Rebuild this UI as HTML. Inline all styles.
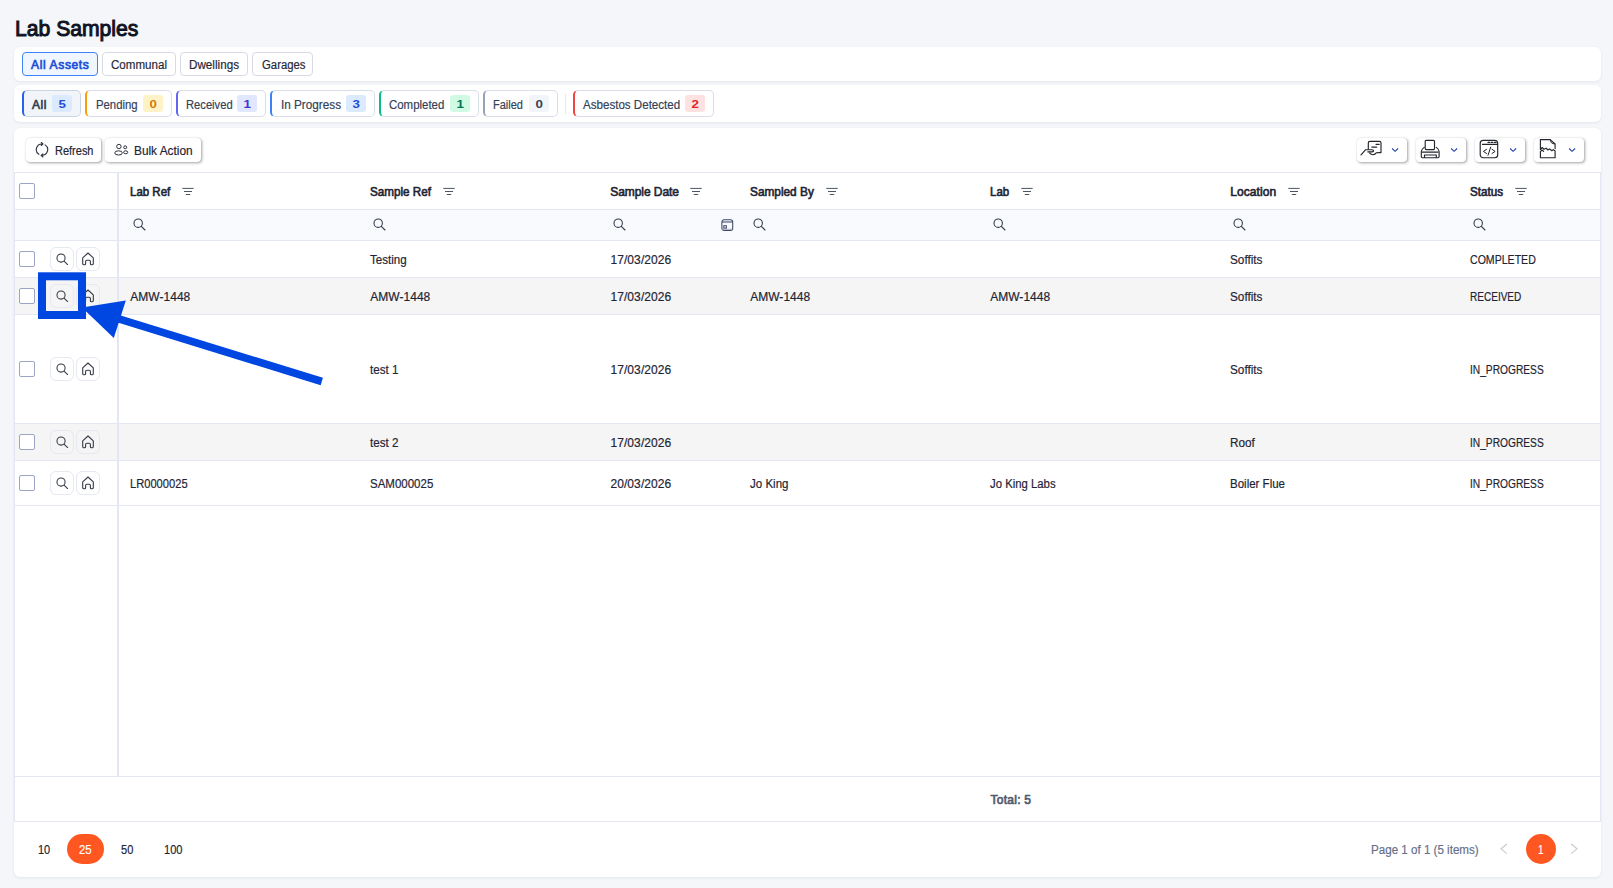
<!DOCTYPE html>
<html lang="en"><head><meta charset="utf-8"><title>Lab Samples</title>
<style>
html,body{margin:0;padding:0}
body{width:1613px;height:888px;overflow:hidden;position:relative;background:#f4f6fa;font-family:'Liberation Sans', sans-serif}
span{position:absolute;white-space:pre;}
</style></head><body>
<div style="position:absolute;left:14px;top:47px;width:1587px;height:34px;background:#fff;border-radius:6px;box-shadow:0 1px 3px rgba(30,41,80,.08);"></div>
<div style="position:absolute;left:22px;top:52px;width:76px;height:24px;box-sizing:border-box;background:#eff6ff;border:1px solid #3b82f6;border-radius:4px;"></div>
<div style="position:absolute;left:102px;top:52px;width:74px;height:24px;box-sizing:border-box;background:#fff;border:1px solid #d5dae6;border-radius:4px;"></div>
<div style="position:absolute;left:180px;top:52px;width:68px;height:24px;box-sizing:border-box;background:#fff;border:1px solid #d5dae6;border-radius:4px;"></div>
<div style="position:absolute;left:252px;top:52px;width:61px;height:24px;box-sizing:border-box;background:#fff;border:1px solid #d5dae6;border-radius:4px;"></div>
<div style="position:absolute;left:14px;top:85px;width:1587px;height:37px;background:#fff;border-radius:6px;box-shadow:0 1px 3px rgba(30,41,80,.08);"></div>
<div style="position:absolute;left:22px;top:90px;width:59px;height:27px;box-sizing:border-box;background:#f1f5f9;border:1px solid #cbd5e1;border-left:2px solid #2563eb;border-radius:5px;"></div>
<div style="position:absolute;left:52px;top:95px;width:20px;height:17px;background:#dbeafe;border-radius:3px;"></div>
<div style="position:absolute;left:85px;top:90px;width:87px;height:27px;box-sizing:border-box;background:#fff;border:1px solid #d9dde8;border-left:2px solid #f59e0b;border-radius:5px;"></div>
<div style="position:absolute;left:143px;top:95px;width:20px;height:17px;background:#fef3c7;border-radius:3px;"></div>
<div style="position:absolute;left:176px;top:90px;width:90px;height:27px;box-sizing:border-box;background:#fff;border:1px solid #d9dde8;border-left:2px solid #6366f1;border-radius:5px;"></div>
<div style="position:absolute;left:237px;top:95px;width:20px;height:17px;background:#e0e7ff;border-radius:3px;"></div>
<div style="position:absolute;left:270px;top:90px;width:105px;height:27px;box-sizing:border-box;background:#fff;border:1px solid #d9dde8;border-left:2px solid #3b82f6;border-radius:5px;"></div>
<div style="position:absolute;left:346.2px;top:95px;width:20px;height:17px;background:#dbeafe;border-radius:3px;"></div>
<div style="position:absolute;left:379px;top:90px;width:99.5px;height:27px;box-sizing:border-box;background:#fff;border:1px solid #d9dde8;border-left:2px solid #10b981;border-radius:5px;"></div>
<div style="position:absolute;left:450.2px;top:95px;width:20px;height:17px;background:#d1fae5;border-radius:3px;"></div>
<div style="position:absolute;left:483px;top:90px;width:75px;height:27px;box-sizing:border-box;background:#fff;border:1px solid #d9dde8;border-left:2px solid #94a3b8;border-radius:5px;"></div>
<div style="position:absolute;left:529.2px;top:95px;width:20px;height:17px;background:#f1f5f9;border-radius:3px;"></div>
<div style="position:absolute;left:565px;top:94px;width:1px;height:20px;background:#e2e8f0;"></div>
<div style="position:absolute;left:573px;top:90px;width:140.5px;height:27px;box-sizing:border-box;background:#fff;border:1px solid #d9dde8;border-left:2px solid #ef4444;border-radius:5px;"></div>
<div style="position:absolute;left:685.2px;top:95px;width:20px;height:17px;background:#fee2e2;border-radius:3px;"></div>
<div style="position:absolute;left:14px;top:128px;width:1587px;height:749px;background:#fff;border-radius:6px;box-shadow:0 1px 3px rgba(30,41,80,.08);"></div>
<div style="position:absolute;left:26px;top:138px;width:75px;height:24px;background:#fff;border-radius:4px;box-shadow:1px 1px 3px rgba(0,0,0,.36),0 0 1px rgba(0,0,0,.14);"></div>
<div style="position:absolute;left:105px;top:138px;width:96px;height:24px;background:#fff;border-radius:4px;box-shadow:1px 1px 3px rgba(0,0,0,.36),0 0 1px rgba(0,0,0,.14);"></div>
<svg style="position:absolute;left:34px;top:142px" width="16" height="16" viewBox="0 0 16 16" fill="none" stroke="#2b3040" stroke-width="1.1" stroke-linecap="round" stroke-linejoin="round">
<path d="M4.9 12.3 A5.6 5.6 0 0 1 8.6 2.03 M7.3 0.4 L9 1.9 L7.3 3.5 M11.1 2.9 A5.6 5.6 0 0 1 7.4 13.17 M8.9 11.8 L7.1 13.4 L8.9 15"/></svg>
<svg style="position:absolute;left:114px;top:143px" width="15" height="14" viewBox="0 0 15 14" fill="none" stroke="#2b3040" stroke-width="1">
<circle cx="4.9" cy="3.5" r="2.2"/><ellipse cx="4.55" cy="9.9" rx="3.8" ry="2.1"/>
<circle cx="11.2" cy="4.3" r="1.5"/><ellipse cx="11.7" cy="9.3" rx="2.05" ry="1.5"/></svg>
<div style="position:absolute;left:1357px;top:138px;width:50px;height:24px;background:#fff;border-radius:4px;box-shadow:1px 1px 3px rgba(0,0,0,.36),0 0 1px rgba(0,0,0,.14);"></div>
<svg style="position:absolute;left:1391px;top:147.4px" width="9" height="6" viewBox="0 0 9 6" fill="none" stroke="#1e3fae" stroke-width="1.05"><path d="M1.1 1.5 L4.1 4.3 L7.1 1.5"/></svg>
<div style="position:absolute;left:1416px;top:138px;width:50px;height:24px;background:#fff;border-radius:4px;box-shadow:1px 1px 3px rgba(0,0,0,.36),0 0 1px rgba(0,0,0,.14);"></div>
<svg style="position:absolute;left:1450px;top:147.4px" width="9" height="6" viewBox="0 0 9 6" fill="none" stroke="#1e3fae" stroke-width="1.05"><path d="M1.1 1.5 L4.1 4.3 L7.1 1.5"/></svg>
<div style="position:absolute;left:1475px;top:138px;width:50px;height:24px;background:#fff;border-radius:4px;box-shadow:1px 1px 3px rgba(0,0,0,.36),0 0 1px rgba(0,0,0,.14);"></div>
<svg style="position:absolute;left:1509px;top:147.4px" width="9" height="6" viewBox="0 0 9 6" fill="none" stroke="#1e3fae" stroke-width="1.05"><path d="M1.1 1.5 L4.1 4.3 L7.1 1.5"/></svg>
<div style="position:absolute;left:1534px;top:138px;width:50px;height:24px;background:#fff;border-radius:4px;box-shadow:1px 1px 3px rgba(0,0,0,.36),0 0 1px rgba(0,0,0,.14);"></div>
<svg style="position:absolute;left:1568px;top:147.4px" width="9" height="6" viewBox="0 0 9 6" fill="none" stroke="#1e3fae" stroke-width="1.05"><path d="M1.1 1.5 L4.1 4.3 L7.1 1.5"/></svg>
<svg style="position:absolute;left:1360px;top:140px" width="23" height="17" viewBox="0 0 23 17" fill="none" stroke="#22252b" stroke-width="1.15" stroke-linejoin="round" stroke-linecap="round">
<path d="M8.3 9 V3 Q8.3 1.4 10 1.4 H19.4 Q21 1.4 21 3 V12.6 H19 L16.6 12.7 Q15 14.7 13 14.7 Q11 14.7 9.6 12.9"/>
<path d="M16 4.3 H19.2 M11.8 7.1 H16.7"/>
<path d="M1 14.8 L5.7 9.7 H12 Q13.6 9.7 13.6 10.75 Q13.6 11.8 12 11.8 H7.8"/></svg>
<svg style="position:absolute;left:1420px;top:139px" width="21" height="20" viewBox="0 0 21 20" fill="none" stroke="#22252b" stroke-width="1.15" stroke-linejoin="round" stroke-linecap="round">
<rect x="5.2" y="1.3" width="9.3" height="9.3" rx="1"/>
<path d="M4.2 8.4 Q1.3 10.4 1.3 12.6 V17.6 Q1.3 18.7 2.4 18.7 H18 Q19.1 18.7 19.1 17.6 V12.6 Q19.1 10.4 16.3 8.4"/>
<path d="M2.4 13.1 H18"/><path d="M4.5 18.5 V16 H16.3 V18.5"/></svg>
<svg style="position:absolute;left:1479px;top:139px" width="20" height="20" viewBox="0 0 20 20" fill="none" stroke="#22252b" stroke-width="1.15" stroke-linejoin="round" stroke-linecap="round">
<rect x="1.2" y="1.4" width="17.5" height="17.3" rx="3"/><path d="M3.4 5.3 H18.6"/>
<path d="M9 3.3 H17.2" stroke-width="1.3" stroke-dasharray="1.7 1.5"/>
<path d="M7.6 10.3 L4.4 12.4 L7.6 14.5 M13 10.3 L16.1 12.4 L13 14.5 M11.7 8.1 L9 16.3" stroke-width="1"/></svg>
<svg style="position:absolute;left:1539px;top:138px" width="18" height="21" viewBox="0 0 18 21" fill="none" stroke="#22252b" stroke-width="1.15" stroke-linejoin="round" stroke-linecap="round">
<path d="M1.4 11.2 V1.6 H11.2 L16.1 6 V10.6"/><path d="M11.4 2.2 Q11.4 5.8 15.6 5.9" stroke-width="1"/>
<path d="M1.4 11.3 L3.2 9.5 L5 11.3 L7.2 10.2 L8.9 12 L10.7 10.9 L12.8 12.7 L14.3 11.6 L16.1 13 V19.7 H1.4 V13.6 L3 12 L4.6 13.4" /></svg>
<div style="position:absolute;left:15px;top:210px;width:1585px;height:30px;background:#f9fafd;"></div>
<div style="position:absolute;left:15px;top:278px;width:1585px;height:36px;background:#f5f5f5;"></div>
<div style="position:absolute;left:15px;top:424px;width:1585px;height:36px;background:#f5f5f5;"></div>
<div style="position:absolute;left:14px;top:172px;width:1587px;height:1px;background:#e3e7f1;"></div>
<div style="position:absolute;left:14px;top:209px;width:1587px;height:1px;background:#e3e7f1;"></div>
<div style="position:absolute;left:14px;top:240px;width:1587px;height:1px;background:#e3e7f1;"></div>
<div style="position:absolute;left:14px;top:277px;width:1587px;height:1px;background:#e3e7f1;"></div>
<div style="position:absolute;left:14px;top:314px;width:1587px;height:1px;background:#e3e7f1;"></div>
<div style="position:absolute;left:14px;top:423px;width:1587px;height:1px;background:#e3e7f1;"></div>
<div style="position:absolute;left:14px;top:460px;width:1587px;height:1px;background:#e3e7f1;"></div>
<div style="position:absolute;left:14px;top:505px;width:1587px;height:1px;background:#e3e7f1;"></div>
<div style="position:absolute;left:118px;top:776px;width:1483px;height:1px;background:#e3e7f1;"></div>
<div style="position:absolute;left:14px;top:776px;width:104px;height:1px;background:#e3e7f1;"></div>
<div style="position:absolute;left:14px;top:821px;width:1587px;height:1px;background:#e3e7f1;"></div>
<div style="position:absolute;left:14px;top:172px;width:1px;height:650px;background:#e3e7f1;"></div>
<div style="position:absolute;left:1600px;top:172px;width:1px;height:650px;background:#e3e7f1;"></div>
<div style="position:absolute;left:117px;top:172px;width:2px;height:605px;background:#e4e7f2;"></div>
<svg style="position:absolute;left:181.6px;top:187px" width="12" height="9" viewBox="0 0 12 9" fill="none" stroke="#4b5563" stroke-width="1"><path d="M0.3 1.4 H11.7 M2 4.5 H10 M3.8 7.5 H8.2"/></svg>
<svg style="position:absolute;left:442.6px;top:187px" width="12" height="9" viewBox="0 0 12 9" fill="none" stroke="#4b5563" stroke-width="1"><path d="M0.3 1.4 H11.7 M2 4.5 H10 M3.8 7.5 H8.2"/></svg>
<svg style="position:absolute;left:690.3px;top:187px" width="12" height="9" viewBox="0 0 12 9" fill="none" stroke="#4b5563" stroke-width="1"><path d="M0.3 1.4 H11.7 M2 4.5 H10 M3.8 7.5 H8.2"/></svg>
<svg style="position:absolute;left:825.6px;top:187px" width="12" height="9" viewBox="0 0 12 9" fill="none" stroke="#4b5563" stroke-width="1"><path d="M0.3 1.4 H11.7 M2 4.5 H10 M3.8 7.5 H8.2"/></svg>
<svg style="position:absolute;left:1020.9px;top:187px" width="12" height="9" viewBox="0 0 12 9" fill="none" stroke="#4b5563" stroke-width="1"><path d="M0.3 1.4 H11.7 M2 4.5 H10 M3.8 7.5 H8.2"/></svg>
<svg style="position:absolute;left:1288px;top:187px" width="12" height="9" viewBox="0 0 12 9" fill="none" stroke="#4b5563" stroke-width="1"><path d="M0.3 1.4 H11.7 M2 4.5 H10 M3.8 7.5 H8.2"/></svg>
<svg style="position:absolute;left:1514.6px;top:187px" width="12" height="9" viewBox="0 0 12 9" fill="none" stroke="#4b5563" stroke-width="1"><path d="M0.3 1.4 H11.7 M2 4.5 H10 M3.8 7.5 H8.2"/></svg>
<svg style="position:absolute;left:133px;top:218.3px" width="13" height="13" viewBox="0 0 13 13" fill="none" stroke="#333a48" stroke-width="1.08" stroke-linecap="round"><circle cx="5.2" cy="5.2" r="4.2"/><path d="M8.3 8.3 L12 12"/></svg>
<svg style="position:absolute;left:373px;top:218.3px" width="13" height="13" viewBox="0 0 13 13" fill="none" stroke="#333a48" stroke-width="1.08" stroke-linecap="round"><circle cx="5.2" cy="5.2" r="4.2"/><path d="M8.3 8.3 L12 12"/></svg>
<svg style="position:absolute;left:613px;top:218.3px" width="13" height="13" viewBox="0 0 13 13" fill="none" stroke="#333a48" stroke-width="1.08" stroke-linecap="round"><circle cx="5.2" cy="5.2" r="4.2"/><path d="M8.3 8.3 L12 12"/></svg>
<svg style="position:absolute;left:753px;top:218.3px" width="13" height="13" viewBox="0 0 13 13" fill="none" stroke="#333a48" stroke-width="1.08" stroke-linecap="round"><circle cx="5.2" cy="5.2" r="4.2"/><path d="M8.3 8.3 L12 12"/></svg>
<svg style="position:absolute;left:993px;top:218.3px" width="13" height="13" viewBox="0 0 13 13" fill="none" stroke="#333a48" stroke-width="1.08" stroke-linecap="round"><circle cx="5.2" cy="5.2" r="4.2"/><path d="M8.3 8.3 L12 12"/></svg>
<svg style="position:absolute;left:1233px;top:218.3px" width="13" height="13" viewBox="0 0 13 13" fill="none" stroke="#333a48" stroke-width="1.08" stroke-linecap="round"><circle cx="5.2" cy="5.2" r="4.2"/><path d="M8.3 8.3 L12 12"/></svg>
<svg style="position:absolute;left:1473px;top:218.3px" width="13" height="13" viewBox="0 0 13 13" fill="none" stroke="#333a48" stroke-width="1.08" stroke-linecap="round"><circle cx="5.2" cy="5.2" r="4.2"/><path d="M8.3 8.3 L12 12"/></svg>
<svg style="position:absolute;left:721px;top:219px" width="13" height="13" viewBox="0 0 13 13" fill="none" stroke="#3b4668" stroke-width="1.05"><rect x="0.9" y="0.7" width="10.8" height="10.7" rx="2.2"/><path d="M1 3 H11.6"/><path d="M1.4 10.3 H11.3" stroke="#9aa3b8" stroke-width=".9"/><rect x="2.8" y="6.7" width="2.6" height="2.4" stroke-width="1"/></svg>
<div style="position:absolute;left:19px;top:183px;width:16px;height:16px;box-sizing:border-box;background:#fff;border:1px solid #9ca6c4;border-radius:2px;"></div>
<div style="position:absolute;left:19px;top:251px;width:16px;height:16px;box-sizing:border-box;background:#fff;border:1px solid #9ca6c4;border-radius:2px;"></div>
<div style="position:absolute;left:50px;top:247px;width:24px;height:24px;box-sizing:border-box;border:1px solid #e6e8f2;border-radius:6px;"></div>
<div style="position:absolute;left:76px;top:247px;width:24px;height:24px;box-sizing:border-box;border:1px solid #e6e8f2;border-radius:6px;"></div>
<svg style="position:absolute;left:56.1px;top:252.9px" width="12.6" height="12.6" viewBox="0 0 13 13" fill="none" stroke="#333843" stroke-width="1.08" stroke-linecap="round"><circle cx="5.2" cy="5.2" r="4.2"/><path d="M8.3 8.3 L12 12"/></svg>
<svg style="position:absolute;left:81px;top:251.5px" width="14" height="14" viewBox="0 0 14 14" fill="none" stroke="#333843" stroke-width="1.1" stroke-linejoin="round" stroke-linecap="round"><path d="M7 1.0 L1.7 5.9 V11.4 Q1.7 12.8 3 12.8 H3.6 Q4.6 12.8 4.6 11.8 V9.6 Q4.6 8.3 5.9 8.3 H8.1 Q9.4 8.3 9.4 9.6 V11.8 Q9.4 12.8 10.4 12.8 H11 Q12.3 12.8 12.3 11.4 V5.9 Z"/></svg>
<div style="position:absolute;left:19px;top:288px;width:16px;height:16px;box-sizing:border-box;background:#fff;border:1px solid #9ca6c4;border-radius:2px;"></div>
<div style="position:absolute;left:50px;top:284px;width:24px;height:24px;box-sizing:border-box;border:1px solid #e6e8f2;border-radius:6px;"></div>
<div style="position:absolute;left:76px;top:284px;width:24px;height:24px;box-sizing:border-box;border:1px solid #e6e8f2;border-radius:6px;"></div>
<svg style="position:absolute;left:56.1px;top:289.9px" width="12.6" height="12.6" viewBox="0 0 13 13" fill="none" stroke="#333843" stroke-width="1.08" stroke-linecap="round"><circle cx="5.2" cy="5.2" r="4.2"/><path d="M8.3 8.3 L12 12"/></svg>
<svg style="position:absolute;left:81px;top:288.5px" width="14" height="14" viewBox="0 0 14 14" fill="none" stroke="#333843" stroke-width="1.1" stroke-linejoin="round" stroke-linecap="round"><path d="M7 1.0 L1.7 5.9 V11.4 Q1.7 12.8 3 12.8 H3.6 Q4.6 12.8 4.6 11.8 V9.6 Q4.6 8.3 5.9 8.3 H8.1 Q9.4 8.3 9.4 9.6 V11.8 Q9.4 12.8 10.4 12.8 H11 Q12.3 12.8 12.3 11.4 V5.9 Z"/></svg>
<div style="position:absolute;left:19px;top:361px;width:16px;height:16px;box-sizing:border-box;background:#fff;border:1px solid #9ca6c4;border-radius:2px;"></div>
<div style="position:absolute;left:50px;top:357px;width:24px;height:24px;box-sizing:border-box;border:1px solid #e6e8f2;border-radius:6px;"></div>
<div style="position:absolute;left:76px;top:357px;width:24px;height:24px;box-sizing:border-box;border:1px solid #e6e8f2;border-radius:6px;"></div>
<svg style="position:absolute;left:56.1px;top:362.9px" width="12.6" height="12.6" viewBox="0 0 13 13" fill="none" stroke="#333843" stroke-width="1.08" stroke-linecap="round"><circle cx="5.2" cy="5.2" r="4.2"/><path d="M8.3 8.3 L12 12"/></svg>
<svg style="position:absolute;left:81px;top:361.5px" width="14" height="14" viewBox="0 0 14 14" fill="none" stroke="#333843" stroke-width="1.1" stroke-linejoin="round" stroke-linecap="round"><path d="M7 1.0 L1.7 5.9 V11.4 Q1.7 12.8 3 12.8 H3.6 Q4.6 12.8 4.6 11.8 V9.6 Q4.6 8.3 5.9 8.3 H8.1 Q9.4 8.3 9.4 9.6 V11.8 Q9.4 12.8 10.4 12.8 H11 Q12.3 12.8 12.3 11.4 V5.9 Z"/></svg>
<div style="position:absolute;left:19px;top:434px;width:16px;height:16px;box-sizing:border-box;background:#fff;border:1px solid #9ca6c4;border-radius:2px;"></div>
<div style="position:absolute;left:50px;top:430px;width:24px;height:24px;box-sizing:border-box;border:1px solid #e6e8f2;border-radius:6px;"></div>
<div style="position:absolute;left:76px;top:430px;width:24px;height:24px;box-sizing:border-box;border:1px solid #e6e8f2;border-radius:6px;"></div>
<svg style="position:absolute;left:56.1px;top:435.9px" width="12.6" height="12.6" viewBox="0 0 13 13" fill="none" stroke="#333843" stroke-width="1.08" stroke-linecap="round"><circle cx="5.2" cy="5.2" r="4.2"/><path d="M8.3 8.3 L12 12"/></svg>
<svg style="position:absolute;left:81px;top:434.5px" width="14" height="14" viewBox="0 0 14 14" fill="none" stroke="#333843" stroke-width="1.1" stroke-linejoin="round" stroke-linecap="round"><path d="M7 1.0 L1.7 5.9 V11.4 Q1.7 12.8 3 12.8 H3.6 Q4.6 12.8 4.6 11.8 V9.6 Q4.6 8.3 5.9 8.3 H8.1 Q9.4 8.3 9.4 9.6 V11.8 Q9.4 12.8 10.4 12.8 H11 Q12.3 12.8 12.3 11.4 V5.9 Z"/></svg>
<div style="position:absolute;left:19px;top:475px;width:16px;height:16px;box-sizing:border-box;background:#fff;border:1px solid #9ca6c4;border-radius:2px;"></div>
<div style="position:absolute;left:50px;top:471px;width:24px;height:24px;box-sizing:border-box;border:1px solid #e6e8f2;border-radius:6px;"></div>
<div style="position:absolute;left:76px;top:471px;width:24px;height:24px;box-sizing:border-box;border:1px solid #e6e8f2;border-radius:6px;"></div>
<svg style="position:absolute;left:56.1px;top:476.9px" width="12.6" height="12.6" viewBox="0 0 13 13" fill="none" stroke="#333843" stroke-width="1.08" stroke-linecap="round"><circle cx="5.2" cy="5.2" r="4.2"/><path d="M8.3 8.3 L12 12"/></svg>
<svg style="position:absolute;left:81px;top:475.5px" width="14" height="14" viewBox="0 0 14 14" fill="none" stroke="#333843" stroke-width="1.1" stroke-linejoin="round" stroke-linecap="round"><path d="M7 1.0 L1.7 5.9 V11.4 Q1.7 12.8 3 12.8 H3.6 Q4.6 12.8 4.6 11.8 V9.6 Q4.6 8.3 5.9 8.3 H8.1 Q9.4 8.3 9.4 9.6 V11.8 Q9.4 12.8 10.4 12.8 H11 Q12.3 12.8 12.3 11.4 V5.9 Z"/></svg>
<div style="position:absolute;left:67px;top:834px;width:37px;height:30px;background:#ff5722;border-radius:15px;"></div>
<div style="position:absolute;left:1526px;top:834px;width:30px;height:30px;background:#ff5722;border-radius:15px;"></div>
<svg style="position:absolute;left:1500px;top:843px" width="8" height="12" viewBox="0 0 8 12" fill="none" stroke="#c3c8d2" stroke-width="1.1"><path d="M6.8 1 L1 5.8 L6.8 10.6"/></svg>
<svg style="position:absolute;left:1569.9px;top:843px" width="8" height="12" viewBox="0 0 8 12" fill="none" stroke="#c3c8d2" stroke-width="1.1"><path d="M1.2 1 L7 5.8 L1.2 10.6"/></svg>
<span style="left:15.1px;top:15.5px;font-size:22px;line-height:25px;font-weight:400;-webkit-text-stroke:1.02px #0f1424;color:#0f1424;transform:scaleX(0.9609);transform-origin:0 50%;">Lab Samples</span>
<span style="left:31.0px;top:57.5px;font-size:12px;line-height:14px;font-weight:400;-webkit-text-stroke:0.66px #1d4ed8;color:#1d4ed8;letter-spacing:0.647px;">All Assets</span>
<span style="left:111.0px;top:57.5px;font-size:12px;line-height:14px;font-weight:400;-webkit-text-stroke:0.18px #1f2937;color:#1f2937;transform:scaleX(0.9650);transform-origin:0 50%;">Communal</span>
<span style="left:189.4px;top:57.5px;font-size:12px;line-height:14px;font-weight:400;-webkit-text-stroke:0.18px #1f2937;color:#1f2937;transform:scaleX(0.9735);transform-origin:0 50%;">Dwellings</span>
<span style="left:261.6px;top:57.5px;font-size:12px;line-height:14px;font-weight:400;-webkit-text-stroke:0.18px #1f2937;color:#1f2937;transform:scaleX(0.9450);transform-origin:0 50%;">Garages</span>
<span style="left:32.0px;top:98.0px;font-size:12px;line-height:14px;font-weight:400;-webkit-text-stroke:0.66px #334155;color:#334155;letter-spacing:0.552px;">All</span>
<span style="left:58.9px;top:98.2px;font-size:11.5px;line-height:12px;font-weight:700;color:#1d4ed8;letter-spacing:0.794px;transform:scaleX(1.16);transform-origin:50% 50%;">5</span>
<span style="left:95.7px;top:98.0px;font-size:12px;line-height:14px;font-weight:400;-webkit-text-stroke:0.18px #334155;color:#334155;transform:scaleX(0.9444);transform-origin:0 50%;">Pending</span>
<span style="left:149.9px;top:98.2px;font-size:11.5px;line-height:12px;font-weight:700;color:#d97706;letter-spacing:0.794px;transform:scaleX(1.16);transform-origin:50% 50%;">0</span>
<span style="left:185.5px;top:98.0px;font-size:12px;line-height:14px;font-weight:400;-webkit-text-stroke:0.18px #334155;color:#334155;transform:scaleX(0.9314);transform-origin:0 50%;">Received</span>
<span style="left:243.9px;top:98.2px;font-size:11.5px;line-height:12px;font-weight:700;color:#4338ca;letter-spacing:0.794px;transform:scaleX(1.16);transform-origin:50% 50%;">1</span>
<span style="left:280.5px;top:98.0px;font-size:12px;line-height:14px;font-weight:400;-webkit-text-stroke:0.18px #334155;color:#334155;transform:scaleX(0.9778);transform-origin:0 50%;">In Progress</span>
<span style="left:353.1px;top:98.2px;font-size:11.5px;line-height:12px;font-weight:700;color:#1d4ed8;letter-spacing:0.794px;transform:scaleX(1.16);transform-origin:50% 50%;">3</span>
<span style="left:389.2px;top:98.0px;font-size:12px;line-height:14px;font-weight:400;-webkit-text-stroke:0.18px #334155;color:#334155;transform:scaleX(0.9529);transform-origin:0 50%;">Completed</span>
<span style="left:457.1px;top:98.2px;font-size:11.5px;line-height:12px;font-weight:700;color:#047857;letter-spacing:0.794px;transform:scaleX(1.16);transform-origin:50% 50%;">1</span>
<span style="left:493.4px;top:98.0px;font-size:12px;line-height:14px;font-weight:400;-webkit-text-stroke:0.18px #334155;color:#334155;transform:scaleX(0.9178);transform-origin:0 50%;">Failed</span>
<span style="left:536.1px;top:98.2px;font-size:11.5px;line-height:12px;font-weight:700;color:#334155;letter-spacing:0.794px;transform:scaleX(1.16);transform-origin:50% 50%;">0</span>
<span style="left:582.8px;top:98.0px;font-size:12px;line-height:14px;font-weight:400;-webkit-text-stroke:0.18px #334155;color:#334155;transform:scaleX(0.9649);transform-origin:0 50%;">Asbestos Detected</span>
<span style="left:692.1px;top:98.2px;font-size:11.5px;line-height:12px;font-weight:700;color:#dc2626;letter-spacing:0.794px;transform:scaleX(1.16);transform-origin:50% 50%;">2</span>
<span style="left:54.7px;top:144.0px;font-size:12px;line-height:14px;font-weight:400;-webkit-text-stroke:0.18px #1e2433;color:#1e2433;transform:scaleX(0.9160);transform-origin:0 50%;">Refresh</span>
<span style="left:134.1px;top:144.0px;font-size:12px;line-height:14px;font-weight:400;-webkit-text-stroke:0.18px #1e2433;color:#1e2433;transform:scaleX(0.9869);transform-origin:0 50%;">Bulk Action</span>
<span style="left:130.3px;top:185.2px;font-size:12px;line-height:14px;font-weight:400;-webkit-text-stroke:0.60px #1e2433;color:#1e2433;transform:scaleX(0.9564);transform-origin:0 50%;">Lab Ref</span>
<span style="left:370.2px;top:185.2px;font-size:12px;line-height:14px;font-weight:400;-webkit-text-stroke:0.60px #1e2433;color:#1e2433;transform:scaleX(0.9728);transform-origin:0 50%;">Sample Ref</span>
<span style="left:610.2px;top:185.2px;font-size:12px;line-height:14px;font-weight:400;-webkit-text-stroke:0.60px #1e2433;color:#1e2433;letter-spacing:-0.052px;">Sample Date</span>
<span style="left:750.3px;top:185.2px;font-size:12px;line-height:14px;font-weight:400;-webkit-text-stroke:0.60px #1e2433;color:#1e2433;transform:scaleX(0.9860);transform-origin:0 50%;">Sampled By</span>
<span style="left:990.1px;top:185.2px;font-size:12px;line-height:14px;font-weight:400;-webkit-text-stroke:0.60px #1e2433;color:#1e2433;transform:scaleX(0.9585);transform-origin:0 50%;">Lab</span>
<span style="left:1230.2px;top:185.2px;font-size:12px;line-height:14px;font-weight:400;-webkit-text-stroke:0.60px #1e2433;color:#1e2433;letter-spacing:0.103px;">Location</span>
<span style="left:1470.1px;top:185.2px;font-size:12px;line-height:14px;font-weight:400;-webkit-text-stroke:0.60px #1e2433;color:#1e2433;transform:scaleX(0.9697);transform-origin:0 50%;">Status</span>
<span style="left:370.3px;top:252.8px;font-size:12px;line-height:14px;font-weight:400;-webkit-text-stroke:0.18px #1e2433;color:#1e2433;transform:scaleX(0.9650);transform-origin:0 50%;">Testing</span>
<span style="left:610.4px;top:252.8px;font-size:12px;line-height:14px;font-weight:400;-webkit-text-stroke:0.18px #1e2433;color:#1e2433;letter-spacing:0.094px;">17/03/2026</span>
<span style="left:1230.3px;top:252.8px;font-size:12px;line-height:14px;font-weight:400;-webkit-text-stroke:0.18px #1e2433;color:#1e2433;transform:scaleX(0.9807);transform-origin:0 50%;">Soffits</span>
<span style="left:1470.3px;top:252.8px;font-size:12px;line-height:14px;font-weight:400;-webkit-text-stroke:0.18px #1e2433;color:#1e2433;transform:scaleX(0.8810);transform-origin:0 50%;">COMPLETED</span>
<span style="left:130.3px;top:289.8px;font-size:12px;line-height:14px;font-weight:400;-webkit-text-stroke:0.18px #1e2433;color:#1e2433;letter-spacing:0.023px;">AMW-1448</span>
<span style="left:370.3px;top:289.8px;font-size:12px;line-height:14px;font-weight:400;-webkit-text-stroke:0.18px #1e2433;color:#1e2433;letter-spacing:0.023px;">AMW-1448</span>
<span style="left:610.4px;top:289.8px;font-size:12px;line-height:14px;font-weight:400;-webkit-text-stroke:0.18px #1e2433;color:#1e2433;letter-spacing:0.094px;">17/03/2026</span>
<span style="left:750.2px;top:289.8px;font-size:12px;line-height:14px;font-weight:400;-webkit-text-stroke:0.18px #1e2433;color:#1e2433;letter-spacing:0.023px;">AMW-1448</span>
<span style="left:990.2px;top:289.8px;font-size:12px;line-height:14px;font-weight:400;-webkit-text-stroke:0.18px #1e2433;color:#1e2433;letter-spacing:0.023px;">AMW-1448</span>
<span style="left:1230.3px;top:289.8px;font-size:12px;line-height:14px;font-weight:400;-webkit-text-stroke:0.18px #1e2433;color:#1e2433;transform:scaleX(0.9807);transform-origin:0 50%;">Soffits</span>
<span style="left:1470.3px;top:289.8px;font-size:12px;line-height:14px;font-weight:400;-webkit-text-stroke:0.18px #1e2433;color:#1e2433;transform:scaleX(0.8361);transform-origin:0 50%;">RECEIVED</span>
<span style="left:370.3px;top:363.2px;font-size:12px;line-height:14px;font-weight:400;-webkit-text-stroke:0.18px #1e2433;color:#1e2433;transform:scaleX(0.9707);transform-origin:0 50%;">test 1</span>
<span style="left:610.4px;top:363.2px;font-size:12px;line-height:14px;font-weight:400;-webkit-text-stroke:0.18px #1e2433;color:#1e2433;letter-spacing:0.094px;">17/03/2026</span>
<span style="left:1230.3px;top:363.2px;font-size:12px;line-height:14px;font-weight:400;-webkit-text-stroke:0.18px #1e2433;color:#1e2433;transform:scaleX(0.9807);transform-origin:0 50%;">Soffits</span>
<span style="left:1470.3px;top:363.2px;font-size:12px;line-height:14px;font-weight:400;-webkit-text-stroke:0.18px #1e2433;color:#1e2433;transform:scaleX(0.8500);transform-origin:0 50%;">IN_PROGRESS</span>
<span style="left:370.3px;top:435.9px;font-size:12px;line-height:14px;font-weight:400;-webkit-text-stroke:0.18px #1e2433;color:#1e2433;transform:scaleX(0.9707);transform-origin:0 50%;">test 2</span>
<span style="left:610.4px;top:435.9px;font-size:12px;line-height:14px;font-weight:400;-webkit-text-stroke:0.18px #1e2433;color:#1e2433;letter-spacing:0.094px;">17/03/2026</span>
<span style="left:1230.3px;top:435.9px;font-size:12px;line-height:14px;font-weight:400;-webkit-text-stroke:0.18px #1e2433;color:#1e2433;transform:scaleX(0.9779);transform-origin:0 50%;">Roof</span>
<span style="left:1470.3px;top:435.9px;font-size:12px;line-height:14px;font-weight:400;-webkit-text-stroke:0.18px #1e2433;color:#1e2433;transform:scaleX(0.8500);transform-origin:0 50%;">IN_PROGRESS</span>
<span style="left:130.3px;top:477.3px;font-size:12px;line-height:14px;font-weight:400;-webkit-text-stroke:0.18px #1e2433;color:#1e2433;transform:scaleX(0.9281);transform-origin:0 50%;">LR0000025</span>
<span style="left:370.3px;top:477.3px;font-size:12px;line-height:14px;font-weight:400;-webkit-text-stroke:0.18px #1e2433;color:#1e2433;transform:scaleX(0.9584);transform-origin:0 50%;">SAM000025</span>
<span style="left:610.4px;top:477.3px;font-size:12px;line-height:14px;font-weight:400;-webkit-text-stroke:0.18px #1e2433;color:#1e2433;letter-spacing:0.094px;">20/03/2026</span>
<span style="left:750.2px;top:477.3px;font-size:12px;line-height:14px;font-weight:400;-webkit-text-stroke:0.18px #1e2433;color:#1e2433;transform:scaleX(0.9617);transform-origin:0 50%;">Jo King</span>
<span style="left:990.2px;top:477.3px;font-size:12px;line-height:14px;font-weight:400;-webkit-text-stroke:0.18px #1e2433;color:#1e2433;transform:scaleX(0.9454);transform-origin:0 50%;">Jo King Labs</span>
<span style="left:1230.3px;top:477.3px;font-size:12px;line-height:14px;font-weight:400;-webkit-text-stroke:0.18px #1e2433;color:#1e2433;transform:scaleX(0.9589);transform-origin:0 50%;">Boiler Flue</span>
<span style="left:1470.3px;top:477.3px;font-size:12px;line-height:14px;font-weight:400;-webkit-text-stroke:0.18px #1e2433;color:#1e2433;transform:scaleX(0.8500);transform-origin:0 50%;">IN_PROGRESS</span>
<span style="left:990.5px;top:792.8px;font-size:12px;line-height:14px;font-weight:400;-webkit-text-stroke:0.66px #4f596e;color:#4f596e;letter-spacing:0.262px;">Total: 5</span>
<span style="left:37.8px;top:842.8px;font-size:12px;line-height:14px;font-weight:400;-webkit-text-stroke:0.18px #1e2433;color:#1e2433;transform:scaleX(0.9132);transform-origin:0 50%;">10</span>
<span style="left:79.2px;top:842.8px;font-size:12px;line-height:14px;font-weight:400;-webkit-text-stroke:0.18px #fff;color:#fff;transform:scaleX(0.9432);transform-origin:0 50%;">25</span>
<span style="left:121.4px;top:842.8px;font-size:12px;line-height:14px;font-weight:400;-webkit-text-stroke:0.18px #1e2433;color:#1e2433;transform:scaleX(0.9207);transform-origin:0 50%;">50</span>
<span style="left:163.8px;top:842.8px;font-size:12px;line-height:14px;font-weight:400;-webkit-text-stroke:0.18px #1e2433;color:#1e2433;transform:scaleX(0.9236);transform-origin:0 50%;">100</span>
<span style="left:1370.7px;top:842.8px;font-size:12px;line-height:14px;font-weight:400;-webkit-text-stroke:0.18px #64708a;color:#64708a;transform:scaleX(0.9669);transform-origin:0 50%;">Page 1 of 1 (5 items)</span>
<span style="left:1538.2px;top:842.8px;font-size:12px;line-height:14px;font-weight:400;-webkit-text-stroke:0.18px #fff;color:#fff;transform:scaleX(0.8224);transform-origin:0 50%;">1</span>
<svg style="position:absolute;left:0;top:0" width="1613" height="888" viewBox="0 0 1613 888">
<rect x="42" y="276.3" width="40" height="38.7" fill="none" stroke="#0046e1" stroke-width="8"/>
<line x1="118" y1="318.6" x2="321.8" y2="381.5" stroke="#0046e1" stroke-width="7.6"/>
<polygon points="82,307.4 125.8,300.4 113.8,337.9" fill="#0046e1"/>
</svg>
</body></html>
